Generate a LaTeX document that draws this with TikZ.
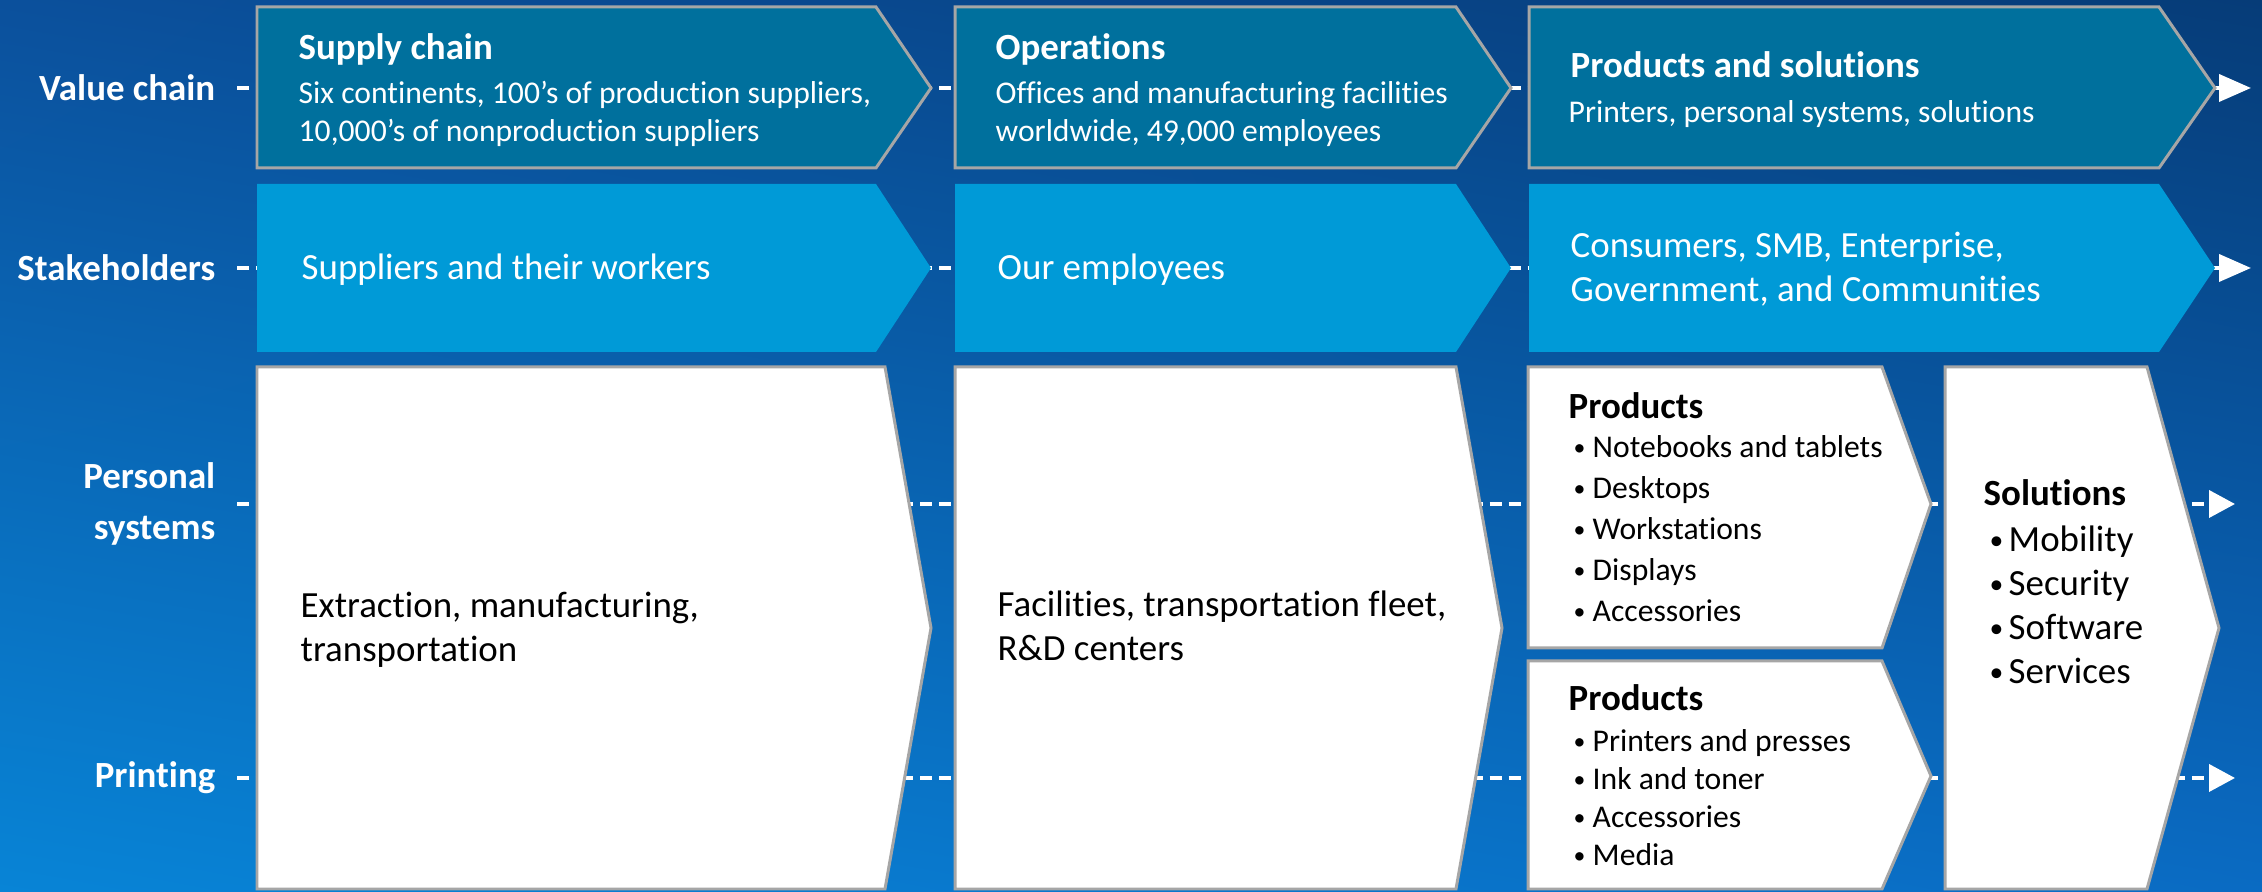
\documentclass[tikz,border=0pt]{standalone}
\usepackage{fontspec}
\setmainfont{Carlito}[Ligatures=NoCommon]
\usetikzlibrary{arrows.meta, shadings}
\definecolor{bgtl}{HTML}{0B509C}
\definecolor{bgtr}{HTML}{063C78}
\definecolor{bgbl}{HTML}{0884D6}
\definecolor{bgbr}{HTML}{0A6BC3}
\definecolor{vcteal}{HTML}{00709D}
\definecolor{stblue}{HTML}{009AD7}
\definecolor{boxgrey}{HTML}{A6A6A6}
\tikzset{
 toprow/.style={fill=vcteal, draw=boxgrey, line width=0.85pt},
 stakerow/.style={fill=stblue},
 whiterow/.style={fill=white, draw=boxgrey, line width=0.85pt},
 rowlabel/.style={anchor=east, inner xsep=0.21cm, inner ysep=0pt, text=white, align=right,
   font=\fontsize{10.5}{14.5}\selectfont\bfseries},
 flow/.style={white, line width=1.1pt, dash pattern=on 3.4pt off 2pt},
 txt/.style={anchor=base west, inner sep=0pt},
 head/.style={txt, font=\fontsize{10.5}{12}\selectfont\bfseries},
 sub/.style={txt, font=\fontsize{9}{11}\selectfont},
 big/.style={txt, font=\fontsize{10.5}{12}\selectfont},
}
\newcommand{\bul}{\makebox[0.19cm][l]{\raisebox{0.08em}{\scalebox{0.75}{•}}}}

\begin{document}
\begin{tikzpicture}
 \useasboundingbox (0,0) rectangle (22.62,8.92);
 \shade[upper left=bgtl, upper right=bgtr, lower left=bgbl, lower right=bgbr] (0,0) rectangle (22.62,8.92);
 % row labels and flow lines
 \node[rowlabel] (vc) at (2.37,8.04) {Value chain};
 \node[rowlabel] (sh) at (2.37,6.24) {Stakeholders};
 \node[rowlabel] (ps) at (2.37,3.88) {Personal\\systems};
 \node[rowlabel] (pr) at (2.37,1.14) {Printing};
 \coordinate (vcend) at (22.51,8.04);
 \coordinate (shend) at (22.51,6.24);
 \coordinate (psend) at (22.35,3.88);
 \coordinate (prend) at (22.35,1.14);
 \draw[flow, -{Triangle[length=0.32cm,width=0.27cm]}] (vc.east) -- (vcend);
 \draw[flow, -{Triangle[length=0.32cm,width=0.27cm]}] (sh.east) -- (shend);
 \draw[flow, -{Triangle[length=0.26cm,width=0.27cm]}] (ps.east) -- (psend);
 \draw[flow, -{Triangle[length=0.26cm,width=0.27cm]}] (pr.east) -- (prend);
 % value chain row
 \draw[toprow] (2.57,7.24) -- (8.76,7.24) -- (9.31,8.04) -- (8.76,8.85) -- (2.57,8.85) -- cycle;
 \draw[toprow] (9.55,7.24) -- (14.56,7.24) -- (15.11,8.04) -- (14.56,8.85) -- (9.55,8.85) -- cycle;
 \draw[toprow] (15.29,7.24) -- (21.59,7.24) -- (22.15,8.04) -- (21.59,8.85) -- (15.29,8.85) -- cycle;
 % stakeholders row
 \fill[stakerow] (2.57,5.40) -- (8.76,5.40) -- (9.31,6.24) -- (8.76,7.08) -- (2.57,7.08) -- cycle;
 \fill[stakerow] (9.55,5.40) -- (14.56,5.40) -- (15.11,6.24) -- (14.56,7.08) -- (9.55,7.08) -- cycle;
 \fill[stakerow] (15.29,5.40) -- (21.59,5.40) -- (22.15,6.24) -- (21.59,7.08) -- (15.29,7.08) -- cycle;
 % business rows
 \draw[whiterow] (2.57,0.03) -- (8.85,0.03) -- (9.31,2.64) -- (8.85,5.25) -- (2.57,5.25) -- cycle;
 \draw[whiterow] (9.55,0.03) -- (14.56,0.03) -- (15.02,2.64) -- (14.56,5.25) -- (9.55,5.25) -- cycle;
 \draw[whiterow] (15.28,2.44) -- (18.82,2.44) -- (19.31,3.88) -- (18.82,5.25) -- (15.28,5.25) -- cycle;
 \draw[whiterow] (15.28,0.03) -- (18.82,0.03) -- (19.31,1.16) -- (18.82,2.31) -- (15.28,2.31) -- cycle;
 \draw[whiterow] (19.45,0.03) -- (21.47,0.03) -- (22.19,2.64) -- (21.47,5.25) -- (19.45,5.25) -- cycle;
 % texts
 \node[head, text=white] (sc) at (2.98,8.32) {Supply chain};
 \node[sub, text=white] (sc1) at (2.98,7.88) {Six continents, 100’s of production suppliers,};
 \node[sub, text=white] (sc2) at (2.98,7.50) {10,000’s of nonproduction suppliers};
 \node[head, text=white] (op) at (9.95,8.32) {Operations};
 \node[sub, text=white] (op1) at (9.95,7.88) {Offices and manufacturing facilities};
 \node[sub, text=white] (op2) at (9.95,7.50) {worldwide, 49,000 employees};
 \node[head, text=white] (pas) at (15.70,8.14) {Products and solutions};
 \node[sub, text=white] (pas1) at (15.68,7.69) {Printers, personal systems, solutions};
 \node[big, text=white] (st1) at (3.01,6.12) {Suppliers and their workers};
 \node[big, text=white] (st2) at (9.97,6.12) {Our employees};
 \node[big, text=white] (st3) at (15.70,6.34) {Consumers, SMB, Enterprise,};
 \node[big, text=white] (st3b) at (15.70,5.90) {Government, and Communities};
 \node[big] (ex) at (3.00,2.74) {Extraction, manufacturing,};
 \node[big] (exb) at (3.00,2.30) {transportation};
 \node[big] (fa) at (9.97,2.75) {Facilities, transportation fleet,};
 \node[big] (fab) at (9.97,2.31) {R\&D centers};
 \node[head] (pp) at (15.68,4.73) {Products};
 \foreach \txt [count=\i] in {Notebooks and tablets, Desktops, Workstations, Displays, Accessories}
  \node[sub] (pp\i) at (15.73,4.75-0.41*\i) {\bul\txt};
 \node[head] (pq) at (15.68,1.81) {Products};
 \foreach \txt [count=\i] in {Printers and presses, Ink and toner, Accessories, Media}
  \node[sub] (pq\i) at (15.73,1.78-0.38*\i) {\bul\txt};
 \node[head] (so) at (19.83,3.86) {Solutions};
 \foreach \txt [count=\i] in {Mobility, Security, Software, Services}
  \node[big] (so\i) at (19.89,3.84-0.44*\i) {\bul\txt};
\end{tikzpicture}
\end{document}
